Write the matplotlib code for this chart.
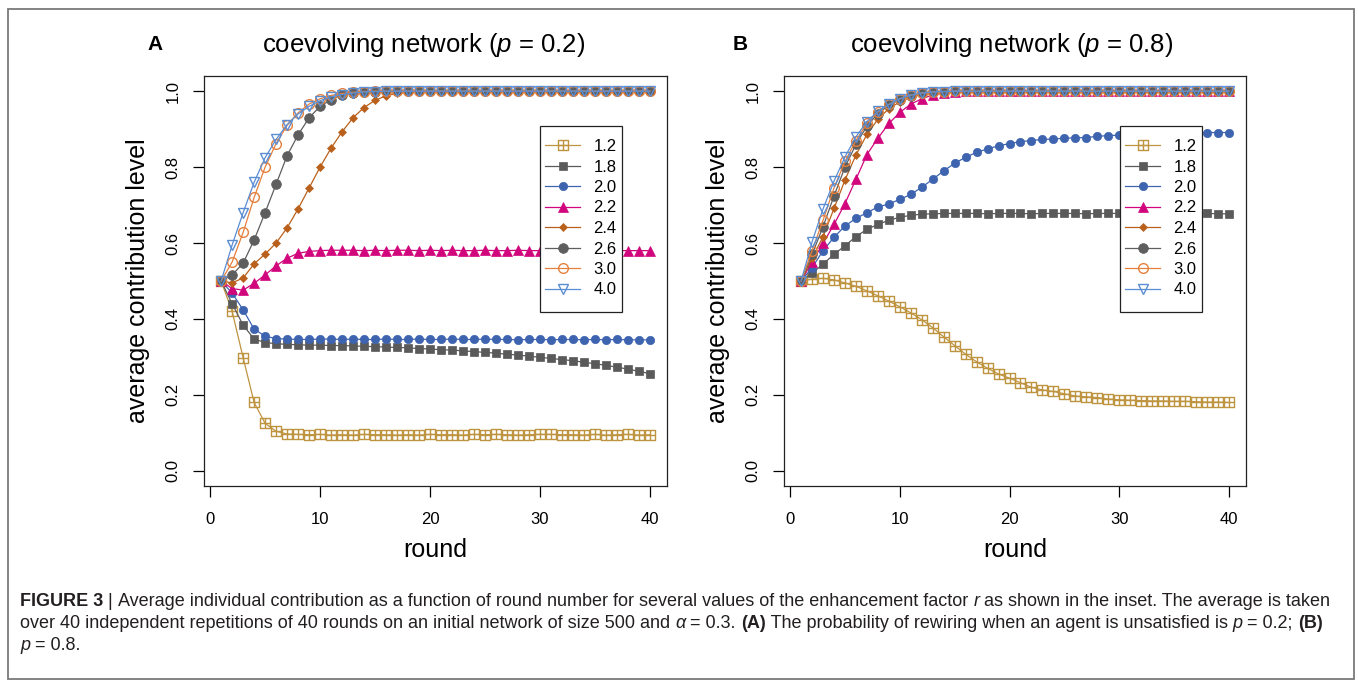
import matplotlib
matplotlib.use("Agg")
import matplotlib.pyplot as plt
from matplotlib.path import Path
from matplotlib.patches import Rectangle
from matplotlib.lines import Line2D

plt.rcParams['font.family'] = ['Liberation Sans', 'DejaVu Sans']
plt.rcParams['mathtext.fontset'] = 'custom'
plt.rcParams['mathtext.rm'] = 'Liberation Sans'
plt.rcParams['mathtext.it'] = 'Liberation Sans:italic'
plt.rcParams['mathtext.bf'] = 'Liberation Sans:bold'

# ---------------- data ----------------
rounds = list(range(1, 41))
r_labels = ['1.2', '1.8', '2.0', '2.2', '2.4', '2.6', '3.0', '4.0']
panel_titles = [r'coevolving network ($p$ = 0.2)', r'coevolving network ($p$ = 0.8)']
panel_letters = ['A', 'B']
x_ticks = [0, 10, 20, 30, 40]
y_ticks = [0.0, 0.2, 0.4, 0.6, 0.8, 1.0]
y_ticklabels = ['0.0', '0.2', '0.4', '0.6', '0.8', '1.0']

# Panel A (p = 0.2)
a_12 = [0.500, 0.420, 0.298, 0.180, 0.125, 0.104, 0.097, 0.096, 0.095, 0.096,
        0.094, 0.095, 0.094, 0.096, 0.095, 0.095, 0.094, 0.095, 0.094, 0.096,
        0.095, 0.095, 0.094, 0.096, 0.095, 0.096, 0.095, 0.094, 0.095, 0.096,
        0.096, 0.095, 0.095, 0.094, 0.096, 0.094, 0.095, 0.096, 0.094, 0.095]
a_18 = [0.500, 0.440, 0.384, 0.347, 0.338, 0.335, 0.333, 0.332, 0.331, 0.331,
        0.330, 0.330, 0.329, 0.328, 0.327, 0.326, 0.325, 0.324, 0.322, 0.321,
        0.319, 0.318, 0.316, 0.314, 0.312, 0.310, 0.307, 0.305, 0.302, 0.299,
        0.296, 0.293, 0.290, 0.286, 0.282, 0.278, 0.273, 0.268, 0.262, 0.256]
a_20 = [0.500, 0.468, 0.424, 0.373, 0.355, 0.348, 0.347, 0.346, 0.346, 0.347,
        0.347, 0.346, 0.347, 0.346, 0.346, 0.347, 0.346, 0.346, 0.347, 0.346,
        0.346, 0.347, 0.346, 0.346, 0.347, 0.346, 0.346, 0.345, 0.346, 0.346,
        0.345, 0.346, 0.346, 0.345, 0.346, 0.345, 0.346, 0.345, 0.345, 0.345]
a_22 = [0.500, 0.480, 0.476, 0.494, 0.516, 0.540, 0.560, 0.573, 0.578, 0.580,
        0.581, 0.581, 0.581, 0.580, 0.581, 0.580, 0.581, 0.581, 0.580, 0.581,
        0.580, 0.581, 0.580, 0.580, 0.581, 0.580, 0.580, 0.581, 0.580, 0.580,
        0.581, 0.580, 0.580, 0.580, 0.581, 0.580, 0.580, 0.580, 0.580, 0.580]
a_24 = [0.500, 0.495, 0.508, 0.545, 0.571, 0.600, 0.640, 0.690, 0.745, 0.800,
        0.850, 0.893, 0.930, 0.957, 0.976, 0.988, 0.994, 0.997, 0.999, 1.000,
        1.000, 1.000, 1.000, 1.000, 1.000, 1.000, 1.000, 1.000, 1.000, 1.000,
        1.000, 1.000, 1.000, 1.000, 1.000, 1.000, 1.000, 1.000, 1.000, 1.000]
a_26 = [0.500, 0.516, 0.547, 0.608, 0.680, 0.755, 0.830, 0.885, 0.930, 0.960,
        0.978, 0.990, 0.995, 0.998, 0.999, 1.000, 1.000, 1.000, 1.000, 1.000,
        1.000, 1.000, 1.000, 1.000, 1.000, 1.000, 1.000, 1.000, 1.000, 1.000,
        1.000, 1.000, 1.000, 1.000, 1.000, 1.000, 1.000, 1.000, 1.000, 1.000]
a_30 = [0.500, 0.550, 0.628, 0.720, 0.800, 0.862, 0.910, 0.943, 0.966, 0.980,
        0.989, 0.994, 0.997, 0.999, 1.000, 1.000, 1.000, 1.000, 1.000, 1.000,
        1.000, 1.000, 1.000, 1.000, 1.000, 1.000, 1.000, 1.000, 1.000, 1.000,
        1.000, 1.000, 1.000, 1.000, 1.000, 1.000, 1.000, 1.000, 1.000, 1.000]
a_40 = [0.500, 0.595, 0.680, 0.760, 0.825, 0.873, 0.912, 0.940, 0.960, 0.975,
        0.985, 0.991, 0.995, 0.998, 0.999, 1.000, 1.000, 1.000, 1.000, 1.000,
        1.000, 1.000, 1.000, 1.000, 1.000, 1.000, 1.000, 1.000, 1.000, 1.000,
        1.000, 1.000, 1.000, 1.000, 1.000, 1.000, 1.000, 1.000, 1.000, 1.000]

# Panel B (p = 0.8)
b_12 = [0.500, 0.505, 0.507, 0.503, 0.495, 0.486, 0.474, 0.461, 0.447, 0.432,
        0.416, 0.398, 0.377, 0.353, 0.330, 0.307, 0.287, 0.270, 0.255, 0.244,
        0.232, 0.220, 0.213, 0.209, 0.203, 0.197, 0.195, 0.193, 0.189, 0.187,
        0.186, 0.185, 0.184, 0.184, 0.183, 0.183, 0.182, 0.181, 0.181, 0.180]
b_18 = [0.500, 0.520, 0.545, 0.570, 0.593, 0.617, 0.636, 0.649, 0.660, 0.668,
        0.673, 0.676, 0.677, 0.678, 0.678, 0.678, 0.678, 0.677, 0.678, 0.678,
        0.678, 0.677, 0.678, 0.678, 0.678, 0.678, 0.677, 0.678, 0.678, 0.678,
        0.677, 0.678, 0.678, 0.677, 0.678, 0.677, 0.677, 0.678, 0.677, 0.677]
b_20 = [0.500, 0.535, 0.580, 0.615, 0.645, 0.665, 0.680, 0.695, 0.703, 0.715,
        0.728, 0.747, 0.768, 0.790, 0.810, 0.826, 0.839, 0.848, 0.856, 0.862,
        0.867, 0.870, 0.873, 0.874, 0.876, 0.877, 0.878, 0.881, 0.883, 0.884,
        0.885, 0.886, 0.887, 0.888, 0.889, 0.889, 0.890, 0.891, 0.891, 0.891]
b_22 = [0.500, 0.550, 0.599, 0.649, 0.704, 0.768, 0.833, 0.876, 0.915, 0.944,
        0.966, 0.980, 0.990, 0.995, 0.998, 1.000, 1.000, 1.000, 1.000, 1.000,
        1.000, 1.000, 1.000, 1.000, 1.000, 1.000, 1.000, 1.000, 1.000, 1.000,
        1.000, 1.000, 1.000, 1.000, 1.000, 1.000, 1.000, 1.000, 1.000, 1.000]
b_24 = [0.500, 0.560, 0.617, 0.691, 0.766, 0.832, 0.886, 0.926, 0.954, 0.972,
        0.984, 0.991, 0.995, 0.998, 0.999, 1.000, 1.000, 1.000, 1.000, 1.000,
        1.000, 1.000, 1.000, 1.000, 1.000, 1.000, 1.000, 1.000, 1.000, 1.000,
        1.000, 1.000, 1.000, 1.000, 1.000, 1.000, 1.000, 1.000, 1.000, 1.000]
b_26 = [0.500, 0.570, 0.643, 0.724, 0.800, 0.860, 0.908, 0.941, 0.963, 0.978,
        0.988, 0.994, 0.997, 0.999, 1.000, 1.000, 1.000, 1.000, 1.000, 1.000,
        1.000, 1.000, 1.000, 1.000, 1.000, 1.000, 1.000, 1.000, 1.000, 1.000,
        1.000, 1.000, 1.000, 1.000, 1.000, 1.000, 1.000, 1.000, 1.000, 1.000]
b_30 = [0.500, 0.580, 0.660, 0.745, 0.815, 0.870, 0.915, 0.945, 0.965, 0.980,
        0.990, 0.995, 0.998, 0.999, 1.000, 1.000, 1.000, 1.000, 1.000, 1.000,
        1.000, 1.000, 1.000, 1.000, 1.000, 1.000, 1.000, 1.000, 1.000, 1.000,
        1.000, 1.000, 1.000, 1.000, 1.000, 1.000, 1.000, 1.000, 1.000, 1.000]
b_40 = [0.500, 0.603, 0.690, 0.763, 0.827, 0.880, 0.920, 0.947, 0.965, 0.980,
        0.990, 0.995, 0.998, 0.999, 1.000, 1.000, 1.000, 1.000, 1.000, 1.000,
        1.000, 1.000, 1.000, 1.000, 1.000, 1.000, 1.000, 1.000, 1.000, 1.000,
        1.000, 1.000, 1.000, 1.000, 1.000, 1.000, 1.000, 1.000, 1.000, 1.000]

panel_a = [a_12, a_18, a_20, a_22, a_24, a_26, a_30, a_40]
panel_b = [b_12, b_18, b_20, b_22, b_24, b_26, b_30, b_40]

# ---------------- styles ----------------
sq_plus = Path([(-1, -1), (1, -1), (1, 1), (-1, 1), (-1, -1),
                (0, -1), (0, 1), (-1, 0), (1, 0)],
               [Path.MOVETO, Path.LINETO, Path.LINETO, Path.LINETO, Path.CLOSEPOLY,
                Path.MOVETO, Path.LINETO, Path.MOVETO, Path.LINETO])

styles = [
    dict(color='#bf9440', marker=sq_plus, ms=7.0, mfc='none', mew=1.0),
    dict(color='#5a5a5a', marker='s', ms=6.0, mfc='#5a5a5a', mew=0.5),
    dict(color='#3e64b0', marker='o', ms=6.0, mfc='#3e64b0', mew=0.5),
    dict(color='#d1067d', marker='^', ms=7.5, mfc='#d1067d', mew=0.5),
    dict(color='#b9611c', marker='D', ms=4.0, mfc='#b9611c', mew=0.5),
    dict(color='#5e5e5e', marker='o', ms=7.0, mfc='#5e5e5e', mew=0.5),
    dict(color='#e5803d', marker='o', ms=7.0, mfc='none', mew=1.0),
    dict(color='#5b8dd3', marker='v', ms=7.5, mfc='none', mew=1.0),
]

W, H = 1358, 684
fig = plt.figure(figsize=(W / 100, H / 100), dpi=100)


def fx(px):
    return px / W


def fy(py):
    return 1 - py / H


panels = [
    dict(data=panel_a, left=204, right=667, title_x=424, letter_x=155,
         ylabel_x=138, ticklabel_x=175),
    dict(data=panel_b, left=784, right=1246, title_x=1012, letter_x=740,
         ylabel_x=718, ticklabel_x=755),
]
box_top, box_bot = 76, 486

for i, pnl in enumerate(panels):
    ax = fig.add_axes([fx(pnl['left']), fy(box_bot),
                       (pnl['right'] - pnl['left']) / W, (box_bot - box_top) / H])
    handles = []
    for series, st, lab in zip(pnl['data'], styles, r_labels):
        ln, = ax.plot(rounds, series, color=st['color'], lw=0.9,
                      marker=st['marker'], ms=st['ms'], mfc=st['mfc'],
                      mec=st['color'], mew=st['mew'], label=lab, zorder=3)
        handles.append(ln)
    ax.set_xlim(1 - 0.04 * 39, 40 + 0.04 * 39)
    ax.set_ylim(-0.04, 1.04)
    ax.set_xticks(x_ticks)
    ax.set_yticks(y_ticks)
    ax.set_yticklabels(y_ticklabels)
    ax.tick_params(direction='out', length=8, width=0.9, labelsize=12,
                   colors='black')
    ax.tick_params(axis='x', pad=11)
    ax.tick_params(axis='y', pad=9, labelrotation=90)
    for lb in ax.get_yticklabels():
        lb.set_va('center')
    for sp in ax.spines.values():
        sp.set_linewidth(0.9)
        sp.set_color('#222222')

    # legend frame + legend
    lx0 = (pnl['left'] + 336 - pnl['left']) / (pnl['right'] - pnl['left'])
    lx1 = (pnl['left'] + 418 - pnl['left']) / (pnl['right'] - pnl['left'])
    ly1 = (box_bot - 126) / (box_bot - box_top)
    ly0 = (box_bot - 312) / (box_bot - box_top)
    ax.add_patch(Rectangle((lx0, ly0), lx1 - lx0, ly1 - ly0, transform=ax.transAxes,
                           facecolor='white', edgecolor='#222222', lw=0.9, zorder=4))
    leg = ax.legend(handles=handles, labels=r_labels, loc='upper left',
                    bbox_to_anchor=(lx0 + 5 / (pnl['right'] - pnl['left']),
                                    ly1 - 13 / (box_bot - box_top)),
                    frameon=False, fontsize=12, handlelength=2.1,
                    handletextpad=0.8, labelspacing=0.33, borderpad=0,
                    borderaxespad=0, numpoints=1)
    leg.set_zorder(5)

    fig.text(fx(pnl['title_x']), fy(45), panel_titles[i], fontsize=18.5,
             ha='center', va='center')
    fig.text(fx(pnl['letter_x']), fy(45), panel_letters[i], fontsize=15,
             fontweight='bold', ha='center', va='center')
    fig.text(fx(pnl['ylabel_x']), fy(281), 'average contribution level',
             fontsize=18, rotation=90, ha='center', va='center')
    fig.text(fx((pnl['left'] + pnl['right']) / 2), fy(550), 'round',
             fontsize=18, ha='center', va='center')

# outer frame
fig.add_artist(Rectangle((fx(8), fy(679)), fx(1354) - fx(8), fy(9) - fy(679),
                         transform=fig.transFigure, facecolor='none',
                         edgecolor='#7a7a7a', lw=1.3))

# ---------------- caption ----------------
renderer = fig.canvas.get_renderer()
reg = dict(fontweight='normal', fontstyle='normal')
bold = dict(fontweight='bold', fontstyle='normal')
ital = dict(fontweight='normal', fontstyle='italic')

cap_lines = [
    [('FIGURE 3', bold), (' | ', reg),
     ('Average individual contribution as a function of round number for several values of the enhancement factor ', reg),
     ('r', ital), (' as shown in the inset. The average is taken', reg)],
    [('over 40 independent repetitions of 40 rounds on an initial network of size 500 and ', reg),
     ('\u03b1', ital), (' = 0.3. ', reg), ('(A)', bold),
     (' The probability of rewiring when an agent is unsatisfied is ', reg),
     ('p', ital), (' = 0.2; ', reg), ('(B)', bold)],
    [('p', ital), (' = 0.8.', reg)],
]
cap_y = [601, 623, 645]
cap_color = '#231f20'


def text_width(s, size, kw):
    t1 = fig.text(0, 0, '|' + s + '|', fontsize=size, **kw)
    t2 = fig.text(0, 0, '||', fontsize=size, **kw)
    w = t1.get_window_extent(renderer).width - t2.get_window_extent(renderer).width
    t1.remove()
    t2.remove()
    return w


base = 10.0
w1 = sum(text_width(s, base, kw) for s, kw in cap_lines[0])
cap_size = base * (1338 - 20) / w1

for line, yy in zip(cap_lines, cap_y):
    x = 20
    for s, kw in line:
        fig.text(fx(x), fy(yy), s, fontsize=cap_size, ha='left', va='center',
                 color=cap_color, **kw)
        x += text_width(s, cap_size, kw)

fig.savefig('out.png', dpi=100)
